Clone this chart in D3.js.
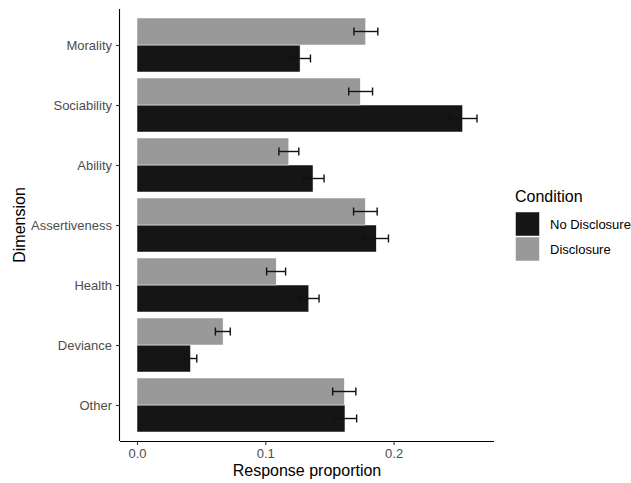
<!DOCTYPE html>
<html>
<head>
<meta charset="utf-8">
<script src="https://cdn.jsdelivr.net/npm/d3@7"></script>
<style>
  body { margin: 0; background: #fff; }
  svg { display: block; font-family: "Liberation Sans", Arial, sans-serif; }
</style>
</head>
<body>
<svg id="chart" width="631" height="483"></svg>
<script>
const categories = ["Morality", "Sociability", "Ability", "Assertiveness", "Health", "Deviance", "Other"];
const conditions = ["No Disclosure", "Disclosure"];
const noDisclosure = [0.1271, 0.2538, 0.1372, 0.1865, 0.1339, 0.0417, 0.1621];
const noDisclosureLo = [0.1194, 0.2429, 0.1297, 0.1771, 0.1259, 0.0370, 0.1533];
const noDisclosureHi = [0.1352, 0.2650, 0.1458, 0.1960, 0.1419, 0.0466, 0.1712];
const disclosure = [0.1782, 0.1740, 0.1183, 0.1779, 0.1085, 0.0671, 0.1616];
const disclosureLo = [0.1691, 0.1650, 0.1106, 0.1688, 0.1010, 0.0611, 0.1525];
const disclosureHi = [0.1877, 0.1836, 0.1261, 0.1872, 0.1158, 0.0727, 0.1706];
const xTicks = [0, 0.1, 0.2];

const colors = { "No Disclosure": "#151515", "Disclosure": "#999999" };

const data = [];
categories.forEach((c, i) => {
  data.push({ cat: c, cond: "No Disclosure", v: noDisclosure[i], lo: noDisclosureLo[i], hi: noDisclosureHi[i] });
  data.push({ cat: c, cond: "Disclosure", v: disclosure[i], lo: disclosureLo[i], hi: disclosureHi[i] });
});

const svg = d3.select("#chart");
const L = 120, R = 494, T = 9, B = 441;

const maxV = d3.max(data, d => d.hi);
const x = d3.scaleLinear().domain([-0.05 * maxV, 1.05 * maxV]).range([L, R]);

// discrete y with 0.6 expansion each side
const step = (B - T) / (categories.length - 1 + 1.2);
const yCenter = i => T + (0.6 + i) * step;
const bandW = 0.9 * step;
// within each category: Disclosure on top, No Disclosure below
const sub = d3.scaleBand().domain(["Disclosure", "No Disclosure"]).range([-bandW / 2, bandW / 2]).padding(0);
const midY = d => yCenter(categories.indexOf(d.cat)) + sub(d.cond) + sub.bandwidth() / 2;

const g = svg.append("g");

// bars
g.selectAll("rect.bar").data(data).join("rect")
  .attr("class", "bar")
  .attr("x", x(0))
  .attr("width", d => x(d.v) - x(0))
  .attr("y", d => yCenter(categories.indexOf(d.cat)) + sub(d.cond))
  .attr("height", sub.bandwidth())
  .attr("fill", d => colors[d.cond])
  .attr("stroke", "#ffffff")
  .attr("stroke-width", 0.5);

// error bars
const capH = 8;
const eb = g.selectAll("g.eb").data(data).join("g").attr("class", "eb")
  .attr("stroke", "#111")
  .attr("stroke-width", 1.4);
eb.append("line")
  .attr("x1", d => x(d.lo)).attr("x2", d => x(d.hi))
  .attr("y1", midY).attr("y2", midY);
eb.append("line")
  .attr("x1", d => x(d.lo)).attr("x2", d => x(d.lo))
  .attr("y1", d => midY(d) - capH / 2).attr("y2", d => midY(d) + capH / 2);
eb.append("line")
  .attr("x1", d => x(d.hi)).attr("x2", d => x(d.hi))
  .attr("y1", d => midY(d) - capH / 2).attr("y2", d => midY(d) + capH / 2);

// x axis
const xAxis = d3.axisBottom(x).tickValues(xTicks).tickFormat(d3.format(".1f")).tickSize(4).tickSizeOuter(0);
const xg = svg.append("g").attr("transform", `translate(0,${B})`).call(xAxis);
xg.select(".domain").attr("d", `M${L},0.5H${R}`).attr("stroke", "#000").attr("stroke-width", 1.1);
xg.selectAll(".tick line").attr("stroke", "#333").attr("stroke-width", 1.1);
xg.selectAll(".tick text").attr("fill", "#4d4d4d").attr("font-size", 13).attr("dy", null).attr("y", 17);
xg.attr("font-family", null);

// y axis
const yScale = d3.scalePoint().domain(categories).range([yCenter(0), yCenter(categories.length - 1)]);
const yAxis = d3.axisLeft(yScale).tickSize(4).tickSizeOuter(0);
const yg = svg.append("g").attr("transform", `translate(${L},0)`).call(yAxis);
yg.select(".domain").attr("d", `M-0.5,${T}V${B}`).attr("stroke", "#000").attr("stroke-width", 1.1);
yg.selectAll(".tick line").attr("stroke", "#333").attr("stroke-width", 1.1);
yg.selectAll(".tick text").attr("fill", "#4d4d4d").attr("font-size", 13).attr("x", -8);
yg.attr("font-family", null);

// axis titles
svg.append("text").attr("x", (L + R) / 2).attr("y", 476).attr("text-anchor", "middle")
  .attr("font-size", 16).attr("fill", "#000").text("Response proportion");
svg.append("text").attr("transform", `translate(25,${(T + B) / 2}) rotate(-90)`).attr("text-anchor", "middle")
  .attr("font-size", 16).attr("fill", "#000").text("Dimension");

// legend
const lg = svg.append("g").attr("transform", "translate(515,0)");
lg.append("text").attr("x", 0).attr("y", 202).attr("font-size", 16).attr("fill", "#000").text("Condition");
conditions.forEach((c, i) => {
  lg.append("rect").attr("x", 0.5).attr("y", 212 + i * 25).attr("width", 24).attr("height", 24)
    .attr("fill", colors[c]).attr("stroke", "#fff").attr("stroke-width", 0.5);
  lg.append("text").attr("x", 35).attr("y", 224 + i * 25).attr("dy", "0.35em")
    .attr("font-size", 13).attr("fill", "#000").text(c);
});
</script>
</body>
</html>
